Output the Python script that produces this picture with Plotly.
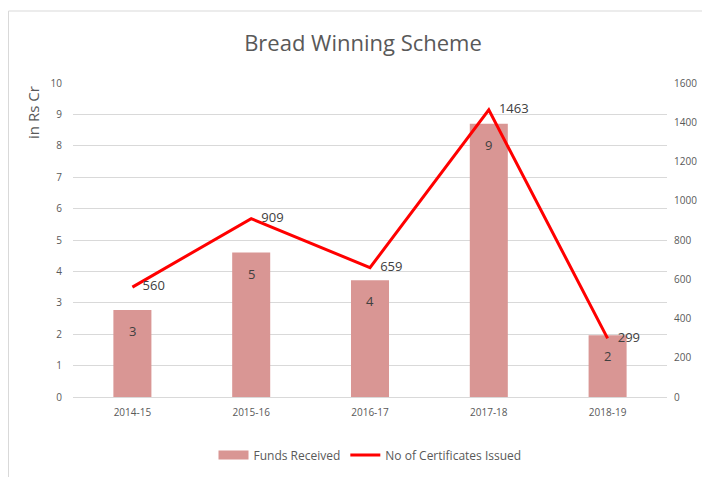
import plotly.graph_objects as go

categories = ["2014-15", "2015-16", "2016-17", "2017-18", "2018-19"]
funds_received = [2.77, 4.6, 3.72, 8.7, 1.97]
certificates_issued = [560, 909, 659, 1463, 299]
left_ticks = list(range(0, 11))
right_ticks = list(range(0, 1601, 200))

BAR_COLOR = "#d99694"
# page body has an 8px default margin; compensate
OFF = 8
L, T, PW, PH = 73 - OFF, 83 - OFF, 594, 314
W, H = 710, 477

fig = go.Figure()

fig.add_trace(go.Bar(
    x=categories, y=funds_received, name="Funds Received",
    marker=dict(color=BAR_COLOR, line=dict(width=0)),
    yaxis="y", showlegend=False,
))

# legend proxy for the bars (wide swatch like the reference)
fig.add_trace(go.Scatter(
    x=[None], y=[None], name="Funds Received", mode="lines",
    line=dict(color=BAR_COLOR, width=9), showlegend=True,
))

fig.add_trace(go.Scatter(
    x=categories, y=certificates_issued, name="No of Certificates Issued",
    mode="lines+text", line=dict(color="#ff0000", width=3),
    text=["\u00a0\u00a0\u00a0" + str(v) for v in certificates_issued],
    textposition="middle right",
    textfont=dict(size=13, color="#404040", family="Open Sans"),
    yaxis="y2", cliponaxis=False,
))

bar_labels = [dict(x=c, y=v, xref="x", yref="y", text=f"{v:.0f}",
                   showarrow=False, yshift=-21, yanchor="middle",
                   font=dict(size=13, color="#404040", family="Open Sans"))
              for c, v in zip(categories, funds_received)]

tick_font = dict(size=10, color="#595959", family="Open Sans")

fig.update_layout(
    width=W, height=H,
    margin=dict(l=L, r=W - L - PW, t=T, b=H - T - PH),
    paper_bgcolor="white", plot_bgcolor="white",
    title=dict(text="Bread Winning Scheme", x=0.5, xanchor="center",
               y=1 - (43 - OFF) / H, yanchor="middle",
               font=dict(size=22, color="#595959", family="Open Sans")),
    bargap=0.68,
    showlegend=True,
    legend=dict(orientation="h", x=0.5, xanchor="center", y=-0.185, yanchor="middle",
                font=dict(size=12, color="#595959", family="Open Sans"),
                traceorder="normal", itemwidth=30),
    xaxis=dict(tickfont=tick_font, showgrid=False, showline=True, linecolor="#d9d9d9",
               ticks="", ticklabelstandoff=6),
    yaxis=dict(range=[0, 10], tickvals=left_ticks, tickfont=tick_font,
               gridcolor="#d9d9d9", gridwidth=1, zeroline=False, ticks="",
               ticklabelstandoff=10),
    yaxis2=dict(range=[0, 1600], tickvals=right_ticks, tickfont=tick_font,
                overlaying="y", side="right", showgrid=False, zeroline=False,
                ticks="", ticklabelstandoff=6),
    shapes=[dict(type="rect", xref="paper", yref="paper",
                 x0=(0.5 - L) / PW, x1=(712 - 73) / PW,
                 y0=(397 - 480) / PH, y1=(397 - 11) / PH,
                 line=dict(color="#d9d9d9", width=1), fillcolor="rgba(0,0,0,0)",
                 layer="below")],
    annotations=bar_labels + [dict(text="in Rs Cr", xref="paper", yref="paper",
                      x=(33 - 73) / PW, y=(397 - 113) / PH,
                      xanchor="center", yanchor="middle", textangle=-90,
                      showarrow=False,
                      font=dict(size=15, color="#595959", family="Open Sans"))],
)

fig.write_html("out.html")
